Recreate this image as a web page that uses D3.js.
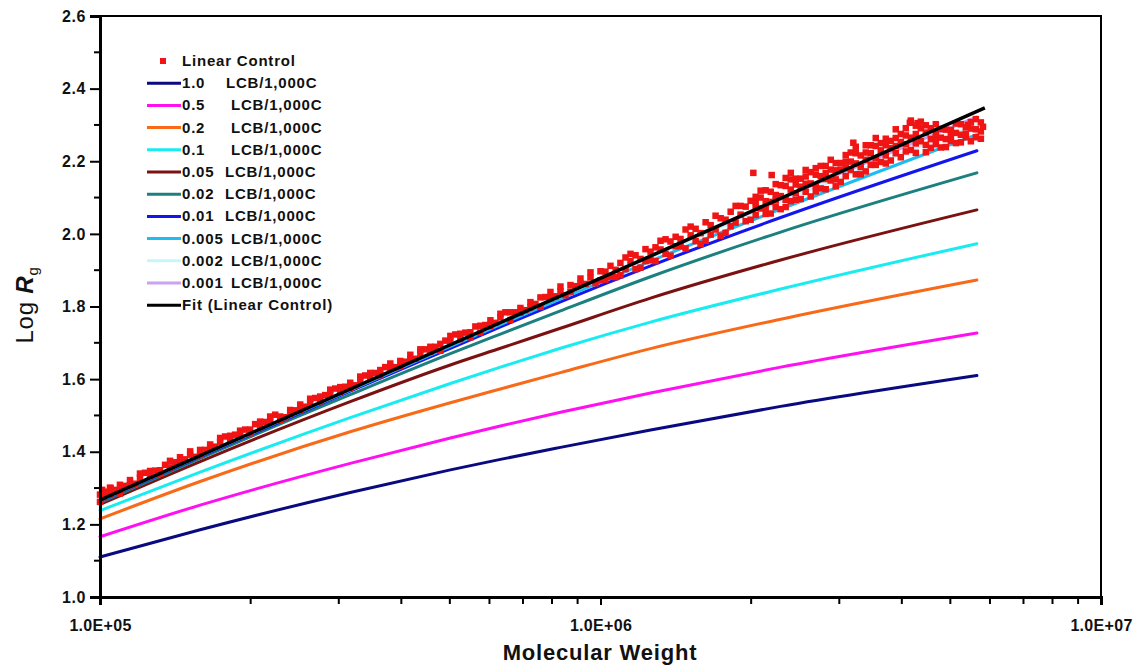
<!DOCTYPE html>
<html>
<head>
<meta charset="utf-8">
<script src="https://cdn.jsdelivr.net/npm/d3@7"></script>
<style>
  html, body { margin: 0; padding: 0; background: #fff; }
  svg { display: block; font-family: "Liberation Sans", Arial, sans-serif; }
</style>
</head>
<body>
<svg id="chart" width="1147" height="666"></svg>
<script>
// ---- data ---------------------------------------------------------------
// molecular weights at which each branched-polymer curve is sampled
const curveMw = [1.0e5, 1.585e5, 3.162e5, 5.012e5, 6.31e5, 8.318e5, 1.259e6, 2.291e6, 5.65e6];

const branchLevels = ["1.0", "0.5", "0.2", "0.1", "0.05", "0.02", "0.01", "0.005", "0.002", "0.001"];
const branchColors = ["#0a0a80", "#ff10f0", "#f86a18", "#18ecf0", "#7a1212", "#1d8080", "#1414ee", "#1ebcf0", "#c6f6fc", "#c9a2f0"];

// Log Rg for each branching level at curveMw
const lcb1000  = [1.110, 1.185, 1.288, 1.350, 1.379, 1.412, 1.460, 1.525, 1.610];
const lcb0500  = [1.166, 1.253, 1.368, 1.438, 1.471, 1.509, 1.562, 1.633, 1.727];
const lcb0200  = [1.215, 1.318, 1.455, 1.535, 1.573, 1.618, 1.684, 1.765, 1.873];
const lcb0100  = [1.238, 1.344, 1.494, 1.588, 1.633, 1.685, 1.757, 1.848, 1.973];
const lcb0050  = [1.255, 1.373, 1.538, 1.639, 1.685, 1.740, 1.823, 1.928, 2.066];
const lcb0020  = [1.260, 1.382, 1.557, 1.670, 1.724, 1.788, 1.882, 2.005, 2.168];
const lcb0010  = [1.263, 1.386, 1.567, 1.685, 1.744, 1.813, 1.912, 2.045, 2.229];
const lcb0005  = [1.265, 1.388, 1.570, 1.690, 1.750, 1.821, 1.925, 2.068, 2.273];
const lcb0002  = [1.267, 1.389, 1.572, 1.694, 1.755, 1.828, 1.935, 2.088, 2.300];
const lcb0001  = [1.268, 1.390, 1.573, 1.695, 1.756, 1.829, 1.939, 2.096, 2.322];
const branchSeries = [lcb1000, lcb0500, lcb0200, lcb0100, lcb0050, lcb0020, lcb0010, lcb0005, lcb0002, lcb0001];

// linear fit through the control sample
const fitMw = [1.0e5, 5.86e6];
const fitLogRg = [1.267, 2.347];

// linear control measurements [Mw, Log Rg]
const linearControl = [
  [1.00e5,1.282],[1.00e5,1.262],[1.01e5,1.295],[1.02e5,1.275],[1.03e5,1.290],
  [1.023e5,1.285],[1.047e5,1.283],[1.05e5,1.300],[1.072e5,1.295],[1.096e5,1.285],[1.10e5,1.304],
  [1.122e5,1.306],[1.148e5,1.322],[1.175e5,1.312],[1.202e5,1.328],[1.230e5,1.342],
  [1.259e5,1.334],[1.288e5,1.348],[1.318e5,1.349],[1.349e5,1.364],[1.380e5,1.357],
  [1.413e5,1.371],[1.445e5,1.385],[1.479e5,1.379],[1.514e5,1.392],[1.549e5,1.386],
  [1.585e5,1.405],[1.622e5,1.405],[1.660e5,1.420],[1.698e5,1.414],[1.738e5,1.427],
  [1.778e5,1.442],[1.820e5,1.433],[1.862e5,1.447],[1.905e5,1.442],[1.950e5,1.461],
  [1.995e5,1.461],[2.042e5,1.476],[2.089e5,1.468],[2.138e5,1.482],[2.188e5,1.483],
  [2.239e5,1.502],[2.291e5,1.497],[2.344e5,1.495],[2.399e5,1.515],[2.455e5,1.514],
  [2.512e5,1.530],[2.570e5,1.524],[2.630e5,1.536],[2.692e5,1.548],[2.754e5,1.539],
  [2.818e5,1.556],[2.884e5,1.557],[2.951e5,1.574],[3.020e5,1.565],[3.090e5,1.579],
  [3.162e5,1.590],[3.236e5,1.583],[3.311e5,1.596],[3.388e5,1.610],[3.467e5,1.604],
  [3.548e5,1.617],[3.631e5,1.611],[3.715e5,1.633],[3.802e5,1.631],[3.890e5,1.633],
  [3.981e5,1.650],[4.074e5,1.648],[4.169e5,1.667],[4.266e5,1.656],[4.365e5,1.670],
  [4.467e5,1.682],[4.571e5,1.676],[4.677e5,1.689],[4.786e5,1.678],[4.898e5,1.706],
  [5.012e5,1.704],[5.129e5,1.723],[5.248e5,1.710],[5.370e5,1.728],[5.495e5,1.729],
  [5.623e5,1.745],[5.754e5,1.728],[5.888e5,1.749],[6.026e5,1.762],[6.166e5,1.755],
  [6.310e5,1.770],[6.457e5,1.784],[6.607e5,1.763],[6.761e5,1.784],[6.918e5,1.796],
  [7.079e5,1.790],[7.244e5,1.812],[7.413e5,1.807],[7.586e5,1.799],[7.762e5,1.826],
  [7.943e5,1.840],[8.128e5,1.828],[8.318e5,1.842],[8.511e5,1.831],[8.710e5,1.859],
  [8.913e5,1.856],[9.120e5,1.877],[9.333e5,1.862],[9.550e5,1.880],[9.772e5,1.864],
  [1.000e6,1.897],
  [1.047e5,1.301],[1.096e5,1.309],[1.148e5,1.308],[1.202e5,1.340],[1.259e5,1.347],
  [1.318e5,1.340],[1.380e5,1.375],[1.445e5,1.371],[1.514e5,1.401],[1.585e5,1.391],
  [1.660e5,1.411],[1.738e5,1.438],[1.820e5,1.444],[1.905e5,1.458],[1.995e5,1.451],
  [2.089e5,1.483],[2.188e5,1.497],[2.291e5,1.488],[2.399e5,1.505],[2.512e5,1.515],
  [2.630e5,1.546],[2.754e5,1.552],[2.884e5,1.571],[3.020e5,1.578],[3.162e5,1.576],
  [3.311e5,1.607],[3.467e5,1.617],[3.631e5,1.625],[3.802e5,1.643],[3.981e5,1.635],
  [4.169e5,1.654],[4.365e5,1.682],[4.571e5,1.689],[4.786e5,1.697],[5.012e5,1.719],
  [5.248e5,1.725],[5.495e5,1.715],[5.754e5,1.747],[6.026e5,1.746],[6.310e5,1.780],
  [6.607e5,1.784],[6.918e5,1.783],[7.244e5,1.798],[7.586e5,1.825],[7.943e5,1.823],
  [8.318e5,1.855],[8.710e5,1.841],[9.120e5,1.863],[9.550e5,1.894],
  [1.023e6,1.896],[1.023e6,1.874],[1.047e6,1.912],[1.072e6,1.901],[1.072e6,1.881],
  [1.096e6,1.920],[1.122e6,1.903],[1.122e6,1.935],[1.148e6,1.925],[1.175e6,1.941],
  [1.175e6,1.903],[1.202e6,1.931],[1.230e6,1.958],[1.230e6,1.925],[1.259e6,1.951],
  [1.288e6,1.925],[1.288e6,1.963],[1.318e6,1.957],[1.349e6,1.985],[1.349e6,1.945],
  [1.380e6,1.979],[1.413e6,1.966],[1.413e6,1.992],[1.445e6,1.986],[1.479e6,1.960],
  [1.479e6,2.012],[1.514e6,1.996],[1.549e6,2.014],[1.549e6,1.980],[1.585e6,2.002],
  [1.622e6,2.032],[1.622e6,1.981],[1.660e6,2.024],[1.698e6,2.012],[1.698e6,2.050],
  [1.738e6,2.043],[1.778e6,2.003],[1.778e6,2.039],[1.820e6,2.061],[1.862e6,2.031],
  [1.862e6,2.077],[1.905e6,2.053],[1.950e6,2.075],[1.950e6,2.035],[1.995e6,2.091],
  [1.000e6,1.872],[1.047e6,1.882],[1.096e6,1.886],[1.148e6,1.945],[1.202e6,1.907],
  [1.259e6,1.927],[1.318e6,1.981],[1.380e6,1.940],[1.445e6,1.966],[1.514e6,2.020],
  [1.585e6,1.972],[1.660e6,1.998],[1.738e6,1.995],[1.820e6,2.021],[1.905e6,2.077],
  [1.995e6,2.039],
  [2.02e6,2.168],[2.198e6,2.162],[2.40e6,2.168],[3.20e6,2.251],[4.15e6,2.306],
  [4.30e6,2.305],[5.42e6,2.300],[5.81e6,2.295],
  [2.042e6,2.087],[2.042e6,2.052],[2.042e6,2.102],[2.089e6,2.070],[2.089e6,2.100],
  [2.138e6,2.090],[2.138e6,2.055],[2.138e6,2.120],[2.188e6,2.088],[2.188e6,2.116],
  [2.239e6,2.074],[2.239e6,2.107],[2.239e6,2.137],[2.291e6,2.104],[2.291e6,2.068],
  [2.344e6,2.132],[2.344e6,2.094],[2.344e6,2.154],[2.399e6,2.122],[2.399e6,2.090],
  [2.455e6,2.152],[2.455e6,2.112],[2.455e6,2.136],[2.512e6,2.096],[2.512e6,2.130],
  [2.570e6,2.158],[2.570e6,2.116],[2.570e6,2.176],[2.630e6,2.139],[2.630e6,2.103],
  [2.692e6,2.163],[2.692e6,2.133],[2.692e6,2.181],[2.754e6,2.159],[2.754e6,2.125],
  [2.818e6,2.187],[2.818e6,2.151],[2.818e6,2.123],[2.884e6,2.177],[2.884e6,2.204],
  [2.951e6,2.150],[2.951e6,2.175],[2.951e6,2.195],[3.020e6,2.143],[3.020e6,2.195],
  [3.090e6,2.183],[3.090e6,2.217],[3.090e6,2.159],[3.162e6,2.199],[3.162e6,2.176],
  [3.236e6,2.222],[3.236e6,2.164],[3.236e6,2.194],[3.311e6,2.216],[3.311e6,2.184],
  [3.388e6,2.244],[3.388e6,2.204],[3.388e6,2.172],[3.467e6,2.222],[3.467e6,2.190],
  [3.548e6,2.242],[3.548e6,2.208],[3.548e6,2.264],[3.631e6,2.198],[3.631e6,2.230],
  [3.715e6,2.262],[3.715e6,2.216],[3.715e6,2.244],[3.802e6,2.202],[3.802e6,2.236],
  [3.890e6,2.264],[3.890e6,2.222],[3.890e6,2.288],[3.981e6,2.253],[3.981e6,2.211],
  [4.074e6,2.291],[4.074e6,2.247],[4.074e6,2.271],[4.169e6,2.231],[4.169e6,2.312],
  [4.266e6,2.275],[4.266e6,2.223],[4.266e6,2.298],[4.365e6,2.255],[4.365e6,2.291],
  [4.467e6,2.245],[4.467e6,2.279],[4.467e6,2.225],[4.571e6,2.291],[4.571e6,2.261],
  [4.677e6,2.247],[4.677e6,2.279],[4.677e6,2.302],[4.786e6,2.265],[4.786e6,2.238],
  [4.898e6,2.287],[4.898e6,2.261],[5.012e6,2.256],[5.012e6,2.286],[5.129e6,2.278],
  [5.129e6,2.250],[5.248e6,2.302],[5.248e6,2.273],[5.370e6,2.266],[5.370e6,2.294],
  [5.495e6,2.290],[5.495e6,2.255],[5.623e6,2.288],[5.623e6,2.316],[5.754e6,2.282],
  [5.754e6,2.307],
  [2.042e6,2.072],[2.089e6,2.119],[2.138e6,2.072],[2.188e6,2.056],[2.239e6,2.092],
  [2.291e6,2.134],[2.344e6,2.074],[2.399e6,2.150],[2.455e6,2.094],[2.512e6,2.152],
  [2.570e6,2.138],[2.630e6,2.170],[2.692e6,2.117],[2.754e6,2.187],[2.818e6,2.167],
  [2.884e6,2.147],[2.951e6,2.131],[3.020e6,2.177],[3.090e6,2.199],[3.162e6,2.224],
  [3.236e6,2.240],[3.311e6,2.164],[3.388e6,2.224],[3.467e6,2.244],[3.548e6,2.190],
  [3.631e6,2.250],[3.715e6,2.194],[3.802e6,2.256],[3.890e6,2.242],[3.981e6,2.275],
  [4.074e6,2.227],[4.169e6,2.265],[4.266e6,2.249],[4.365e6,2.309],[4.467e6,2.299],
  [4.571e6,2.237],[4.677e6,2.263],[4.786e6,2.289],[4.898e6,2.239],[5.012e6,2.270],
  [5.129e6,2.304],[5.248e6,2.252],[5.370e6,2.276],[5.495e6,2.308],[5.623e6,2.266],
  [5.754e6,2.262]
];

// axis ticks
const xMajorTicks = [1e5, 1e6, 1e7];
const xTickLabels = ["1.0E+05", "1.0E+06", "1.0E+07"];
const yMajorTicks = [1.0, 1.2, 1.4, 1.6, 1.8, 2.0, 2.2, 2.4, 2.6];
const yTickLabels = ["1.0", "1.2", "1.4", "1.6", "1.8", "2.0", "2.2", "2.4", "2.6"];

// ---- layout ---------------------------------------------------------------
const svg = d3.select("#chart");
const plotL = 100, plotR = 1101, plotT = 16, plotB = 597;

const x = d3.scaleLog().domain([1e5, 1e7]).range([plotL, plotR]);
const y = d3.scaleLinear().domain([1.0, 2.6]).range([plotB, plotT]);

// plot frame
svg.append("rect")
  .attr("x", plotL).attr("y", plotT)
  .attr("width", plotR - plotL).attr("height", plotB - plotT)
  .attr("fill", "none").attr("stroke", "#000").attr("stroke-width", 2);

// branched curves
const line = d3.line()
  .x(d => x(d[0])).y(d => y(d[1]))
  .curve(d3.curveMonotoneX);

const curves = svg.append("g").attr("fill", "none").attr("stroke-linecap", "round");
branchSeries.forEach((vals, i) => {
  curves.append("path")
    .datum(curveMw.map((m, j) => [m, vals[j]]))
    .attr("d", line)
    .attr("stroke", branchColors[i])
    .attr("stroke-width", 3);
});

// control scatter
const sq = 6.5;
svg.append("g").attr("fill", "#f01414")
  .selectAll("rect").data(linearControl).join("rect")
  .attr("x", d => x(d[0]) - sq / 2)
  .attr("y", d => y(d[1]) - sq / 2)
  .attr("width", sq).attr("height", sq);

// fit line
svg.append("path")
  .datum(fitMw.map((m, j) => [m, fitLogRg[j]]))
  .attr("d", d3.line().x(d => x(d[0])).y(d => y(d[1])))
  .attr("fill", "none").attr("stroke", "#000").attr("stroke-width", 3.5);

// ---- axes ---------------------------------------------------------------
const xMinor = [];
[1e5, 1e6].forEach(dec => { for (let k = 2; k <= 9; k++) xMinor.push(k * dec); });

const xAxis = d3.axisBottom(x)
  .tickValues(xMajorTicks)
  .tickFormat((d, i) => xTickLabels[i])
  .tickSize(8).tickPadding(15);
const gx = svg.append("g").attr("transform", `translate(0,${plotB})`).call(xAxis);
gx.select(".domain").attr("stroke-width", 3);
gx.selectAll(".tick line").attr("stroke-width", 2);
gx.selectAll("text")
  .attr("font-size", 16).attr("font-weight", "bold")
  .attr("font-family", "Liberation Sans, Arial, sans-serif")
  .attr("fill", "#111").style("letter-spacing", "0.3px");
svg.append("g").attr("transform", `translate(0,${plotB})`)
  .selectAll("line").data(xMinor).join("line")
  .attr("x1", d => x(d)).attr("x2", d => x(d))
  .attr("y1", 0).attr("y2", 7)
  .attr("stroke", "#000").attr("stroke-width", 2);

const yMinor = d3.range(1.1, 2.6, 0.2);
const yAxis = d3.axisLeft(y)
  .tickValues(yMajorTicks)
  .tickFormat((d, i) => yTickLabels[i])
  .tickSize(10).tickPadding(4);
const gy = svg.append("g").attr("transform", `translate(${plotL},0)`).call(yAxis);
gy.select(".domain").attr("stroke-width", 3);
gy.selectAll(".tick line").attr("stroke-width", 2);
gy.selectAll("text")
  .attr("font-size", 16).attr("font-weight", "bold")
  .attr("font-family", "Liberation Sans, Arial, sans-serif")
  .attr("fill", "#111").style("letter-spacing", "0.6px");
svg.append("g").attr("transform", `translate(${plotL},0)`)
  .selectAll("line").data(yMinor).join("line")
  .attr("x1", -6).attr("x2", 0)
  .attr("y1", d => y(d)).attr("y2", d => y(d))
  .attr("stroke", "#000").attr("stroke-width", 2);

// axis titles
svg.append("text")
  .attr("x", 600).attr("y", 660)
  .attr("text-anchor", "middle")
  .attr("font-size", 22).attr("font-weight", "bold")
  .style("letter-spacing", "0.8px")
  .attr("fill", "#111")
  .text("Molecular Weight");

const yTitle = svg.append("text")
  .attr("transform", "translate(33,305) rotate(-90)")
  .attr("text-anchor", "middle")
  .attr("font-size", 24).attr("fill", "#111")
  .style("letter-spacing", "0.8px");
yTitle.append("tspan").text("Log ");
yTitle.append("tspan").attr("font-style", "italic").attr("font-weight", "bold").text("R");
yTitle.append("tspan").attr("font-size", 15).attr("dy", 5).text("g");

// ---- legend ---------------------------------------------------------------
const legend = svg.append("g")
  .attr("font-size", 15).attr("font-weight", "bold").attr("fill", "#111")
  .style("letter-spacing", "0.8px");
const rowY = i => 61 + 22.2 * i;
const unitX = [226, 231, 231, 231, 225, 225, 225, 231, 231, 231];

legend.append("rect")
  .attr("x", 160).attr("y", rowY(0) - 3).attr("width", 6).attr("height", 6)
  .attr("fill", "#f01414");
legend.append("text").attr("x", 182).attr("y", rowY(0) + 5).text("Linear Control");

branchLevels.forEach((lvl, i) => {
  const yy = rowY(i + 1);
  legend.append("line")
    .attr("x1", 147).attr("x2", 181).attr("y1", yy).attr("y2", yy)
    .attr("stroke", branchColors[i]).attr("stroke-width", 3);
  legend.append("text").attr("x", 182).attr("y", yy + 5).text(lvl);
  legend.append("text").attr("x", unitX[i]).attr("y", yy + 5).text("LCB/1,000C");
});

const fitRow = rowY(branchLevels.length + 1);
legend.append("line")
  .attr("x1", 147).attr("x2", 181).attr("y1", fitRow).attr("y2", fitRow)
  .attr("stroke", "#000").attr("stroke-width", 3);
legend.append("text").attr("x", 182).attr("y", fitRow + 5).text("Fit (Linear Control)");
</script>
</body>
</html>
